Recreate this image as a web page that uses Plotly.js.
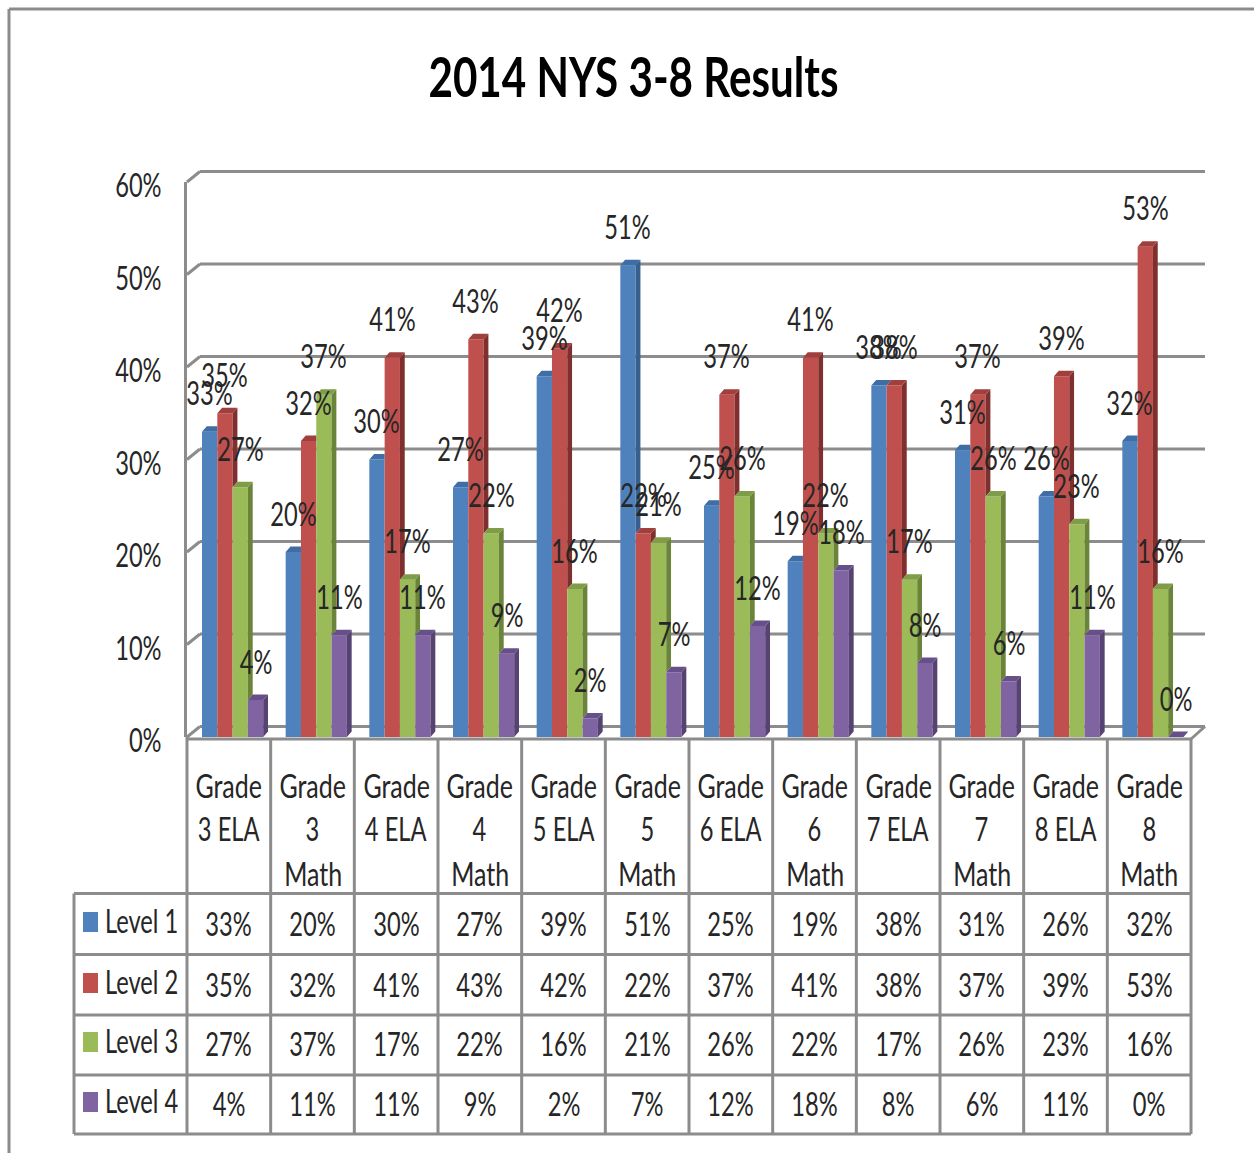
<!DOCTYPE html>
<html>
<head>
<meta charset="utf-8">
<script src="https://cdn.plot.ly/plotly-3.0.1.min.js"></script>
<style>html,body{margin:0;padding:0;background:#fff;overflow:hidden}#c{width:1254px;height:1153px}</style>
</head>
<body>
<div id="c"></div>
<script>
const chartTitle = "2014 NYS 3-8 Results";
const categories = ["Grade 3 ELA","Grade 3 Math","Grade 4 ELA","Grade 4 Math","Grade 5 ELA","Grade 5 Math","Grade 6 ELA","Grade 6 Math","Grade 7 ELA","Grade 7 Math","Grade 8 ELA","Grade 8 Math"];
const categoryLines = [["Grade","3 ELA"],["Grade","3","Math"],["Grade","4 ELA"],["Grade","4","Math"],["Grade","5 ELA"],["Grade","5","Math"],["Grade","6 ELA"],["Grade","6","Math"],["Grade","7 ELA"],["Grade","7","Math"],["Grade","8 ELA"],["Grade","8","Math"]];
const seriesNames = ["Level 1","Level 2","Level 3","Level 4"];
const level1 = [33,20,30,27,39,51,25,19,38,31,26,32];
const level2 = [35,32,41,43,42,22,37,41,38,37,39,53];
const level3 = [27,37,17,22,16,21,26,22,17,26,23,16];
const level4 = [4,11,11,9,2,7,12,18,8,6,11,0];
const yTicks = [0,10,20,30,40,50,60];
const frontColors = ["#4f81bd","#c0504d","#9bbb59","#8064a2"];
const sideColors = ["#37608f","#7f302e","#6a8439","#574371"];
const topColors = ["#3f6ea6","#a03f3c","#7f9c47","#67508a"];

const W = 1254, H = 1153;
const px = v => v / W, py = v => 1 - v / H;
const plot = {l:187, r:1191, t:182, b:737};
const tableTop = 739;
const colW = (plot.r - plot.l) / categories.length;
const unitH = (plot.b - plot.t) / 60;
const barW = 15.3 / colW;
const firstOffset = -0.5 + 15 / colW;
const dx = 4.8 / colW, dy = 5.5 / unitH;
const FONT = 'Lato,"Liberation Sans",sans-serif';
const GRID = '#8c8c8c', INK = '#262626', TXT = 32, SQUEEZE = 0.74, WORD_SQUEEZE = 0.78, TITLE_W = 410;
const series = [level1, level2, level3, level4];
const idx = categories.map((_, i) => i);

const traces = [], shapes = [], annotations = [];

// Grouped bars (front faces)
series.forEach((vals, k) => {
  traces.push({type:'bar', name:seriesNames[k], x:idx, y:vals, width:barW,
    offset:firstOffset + k * barW, marker:{color:frontColors[k], line:{width:0}},
    customdata:categories, hovertemplate:'%{customdata}: %{y}%<extra>'+seriesNames[k]+'</extra>'});
});

// Side and top faces of each bar, derived from the same values
series.forEach((vals, k) => {
  const sx = [], sy = [], tx = [], ty = [];
  vals.forEach((v, i) => {
    const left = i + firstOffset + k * barW, right = left + barW;
    const next = k < 3 ? series[k + 1][i] : 0;
    if (next < v) {
      sx.push(right, right + dx, right + dx, right, null);
      sy.push(next, next + dy, v + dy, v, null);
    }
    const end = next > v ? right : right + dx;
    tx.push(left, right, end, left + dx, null);
    ty.push(v, v, v + dy, v + dy, null);
  });
  [[sx, sy, sideColors[k]], [tx, ty, topColors[k]]].forEach(([x, y, c]) => {
    traces.push({type:'scatter', mode:'lines', x, y, fill:'toself', fillcolor:c,
      line:{width:0, color:c}, hoverinfo:'skip', showlegend:false});
  });
});

const line = (x0, y0, x1, y1, extra) => Object.assign({type:'line', xref:'paper', yref:'paper',
  x0:px(x0), y0:py(y0), x1:px(x1), y1:py(y1), line:{color:GRID, width:3}, layer:'below'}, extra || {});
const wallX = plot.l + 13, wallEnd = 1205, wallRise = 10.5;
const yPx = v => plot.b - v * unitH;

// Outer frame
shapes.push(line(9, 9, 9, H), line(9, 9, W, 9));
// Back-wall gridlines and wall corner
yTicks.forEach(v => {
  shapes.push(line(plot.l, yPx(v), wallX, yPx(v) - wallRise));
  shapes.push(line(wallX, yPx(v) - wallRise, wallEnd, yPx(v) - wallRise));
});
shapes.push(line(plot.r, tableTop, wallEnd, plot.b - wallRise));

// Data table
const rowEdges = [893.5, 954.5, 1015, 1075, 1134];
const colEdges = idx.map(i => plot.l + i * colW).concat(plot.r);
const tableLeft = 74;
shapes.push(line(plot.l, tableTop, plot.r, tableTop, {layer:'above'}));
colEdges.forEach((x, i) => shapes.push(line(x, i ? tableTop : plot.b, x, rowEdges[4], {layer:'above'})));
rowEdges.forEach(y => shapes.push(line(tableLeft, y, plot.r, y, {layer:'above'})));
shapes.push(line(tableLeft, rowEdges[0], tableLeft, rowEdges[4], {layer:'above'}));

const textAt = (text, x, y, opt) => annotations.push(Object.assign({text, xref:'paper', yref:'paper',
  x:px(x), y:py(y), showarrow:false, xanchor:'center', yanchor:'middle',
  font:{family:FONT, size:TXT, color:INK}}, opt || {}));

// Title
textAt(chartTitle, 633, 76, {font:{family:FONT, size:56, color:'#000', weight:700}});

// Category header cells
const lineY = [785, 828, 873];
categoryLines.forEach((lines, i) => lines.forEach((t, j) =>
  textAt(t, plot.l + (i + 0.5) * colW, lineY[j])));

// Value rows with legend keys
const rowY = [924, 985, 1044, 1104];
seriesNames.forEach((name, k) => {
  textAt(name, 141, rowY[k] - 4);
  shapes.push({type:'rect', xref:'paper', yref:'paper', x0:px(83), x1:px(98),
    y0:py(rowY[k] - 12), y1:py(rowY[k] + 8), fillcolor:frontColors[k], line:{width:0}, layer:'above'});
  series[k].forEach((v, i) => textAt(v + '%', plot.l + (i + 0.5) * colW, rowY[k] - 1));
});

// Data labels above the bars
series.forEach((vals, k) => vals.forEach((v, i) => {
  annotations.push({text:v + '%', xref:'x', yref:'y', x:i + firstOffset + (k + 0.5) * barW, y:v,
    yshift:39, showarrow:false, xanchor:'center', yanchor:'middle',
    font:{family:FONT, size:TXT, color:INK}});
}));

const layout = {
  width:W, height:H, margin:{l:0, r:0, t:0, b:0, pad:0},
  paper_bgcolor:'#fff', plot_bgcolor:'rgba(0,0,0,0)', showlegend:false, barmode:'overlay',
  xaxis:{type:'linear', domain:[px(plot.l), px(plot.r)], range:[-0.5, 11.5], showgrid:false,
    zeroline:false, showline:false, showticklabels:false, ticks:'', fixedrange:true},
  yaxis:{domain:[py(plot.b), py(plot.t)], range:[0, 60], tickvals:yTicks, ticktext:yTicks.map(v => v + '%'),
    tickfont:{family:FONT, size:TXT, color:INK}, showgrid:false, zeroline:false,
    showline:true, linecolor:GRID, linewidth:3, ticks:'', ticklabelstandoff:16, ticklabelshift:4, fixedrange:true},
  shapes, annotations
};

// The reference type is narrow and tall: squeeze each text's glyphs horizontally, keeping it real text
function squeeze(gd) {
  gd.querySelectorAll('.annotation-text, .ytick text').forEach(t => {
    const s = t.textContent;
    const len = t.getComputedTextLength();
    const target = s === chartTitle ? TITLE_W : len * (s === 'Grade' || s === 'Math' ? WORD_SQUEEZE : SQUEEZE);
    t.setAttribute('lengthAdjust', 'spacingAndGlyphs');
    t.setAttribute('textLength', target);
  });
}
Plotly.newPlot('c', traces, layout, {displayModeBar:false, responsive:false}).then(squeeze);
</script>
</body>
</html>
